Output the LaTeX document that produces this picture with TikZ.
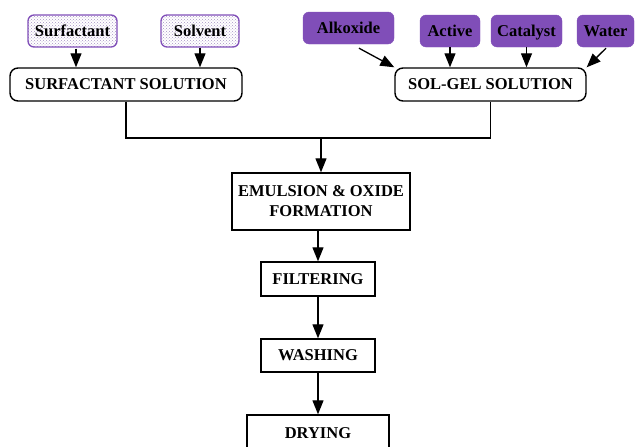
\documentclass[tikz,border=0pt]{standalone}
\usepackage{fontspec}
\setmainfont{Liberation Serif}
\usetikzlibrary{arrows.meta,patterns,calc}
\definecolor{gelpurple}{RGB}{128,78,184}
\definecolor{dotpurple}{RGB}{165,145,195}
\begin{document}
\begin{tikzpicture}[x=1pt,y=-1pt,
        every node/.style={font=\fontsize{16.5}{20}\selectfont\bfseries,inner sep=0pt},
        boxtext/.style={text height=11pt,text depth=1pt},
        dotbox/.style={boxtext,draw=gelpurple,line width=1.3pt,rounded corners=6pt,pattern=crosshatch dots,pattern color=dotpurple},
        gelbox/.style={boxtext,fill=gelpurple,draw=gelpurple,rounded corners=6pt},
        solbox/.style={boxtext,draw,line width=1.4pt,rounded corners=8pt},
        stepbox/.style={draw,line width=1.4pt},
        arr/.style={line width=1.3pt,-{Triangle[length=14pt,width=11pt]}}]
                \useasboundingbox (0,0) rectangle (635,447);
                %% ingredients
                \node[dotbox,minimum width=89pt,minimum height=32pt] (surf) at (72.5,31) {Surfactant};
                \node[dotbox,minimum width=78pt,minimum height=32pt] (solv) at (200,31) {Solvent};
                \node[gelbox,minimum width=91pt,minimum height=32pt] (alk) at (348.5,28) {Alkoxide};
                \node[gelbox,minimum width=60pt,minimum height=32pt] (act) at (450,31) {Active};
                \node[gelbox,minimum width=71pt,minimum height=32pt] (cat) at (526.5,31) {Catalyst};
                \node[gelbox,minimum width=57pt,minimum height=32pt] (water) at (605.5,31) {Water};
                %% solutions
                \node[solbox,minimum width=232pt,minimum height=33pt] (surfsol) at (126,84.5) {SURFACTANT SOLUTION};
                \node[solbox,minimum width=191pt,minimum height=33pt] (solgel) at (490.5,84.5) {SOL-GEL SOLUTION};
                %% process steps
                \node[stepbox,minimum width=178pt,minimum height=57pt,align=center] (emul) at (321,201.5) {EMULSION \& OXIDE\\FORMATION};
                \node[stepbox,minimum width=114pt,minimum height=34pt] (filt) at (318,279) {FILTERING};
                \node[stepbox,minimum width=114pt,minimum height=33pt] (wash) at (318,355.5) {WASHING};
                \node[stepbox,minimum width=142pt,minimum height=36pt] (dry) at (318,433) {DRYING};
                %% inputs
                \coordinate (surfin) at ($(surf.south)+(3.5,1)$);
                \coordinate (alkin) at ($(alk.south)+(10.5,4)$);
                \coordinate (waterin) at ($(water.south)+(0.5,1)$);
                \draw[arr] (surfin) -- (surfin |- surfsol.north);
                \draw[arr] (solv.south) -- (solv.south |- surfsol.north);
                \draw[arr] (alkin) -- (solgel.north west);
                \draw[arr] (act.south) -- (act.south |- solgel.north);
                \draw[arr] (cat.south) -- (cat.south |- solgel.north);
                \draw[arr] (waterin) -- (solgel.north east);
                %% merge
                \coordinate (join) at (emul.north |- 0,138);
                \draw[line width=1.2pt] (surfsol.south) |- (join) -| (solgel.south);
                \draw[arr] (join) -- (emul.north);
                %% steps
                \draw[arr] (emul.south -| filt) -- (filt.north);
                \draw[arr] (filt.south) -- (wash.north);
                \draw[arr] (wash.south) -- (dry.north);
            \end{tikzpicture}
\end{document}
